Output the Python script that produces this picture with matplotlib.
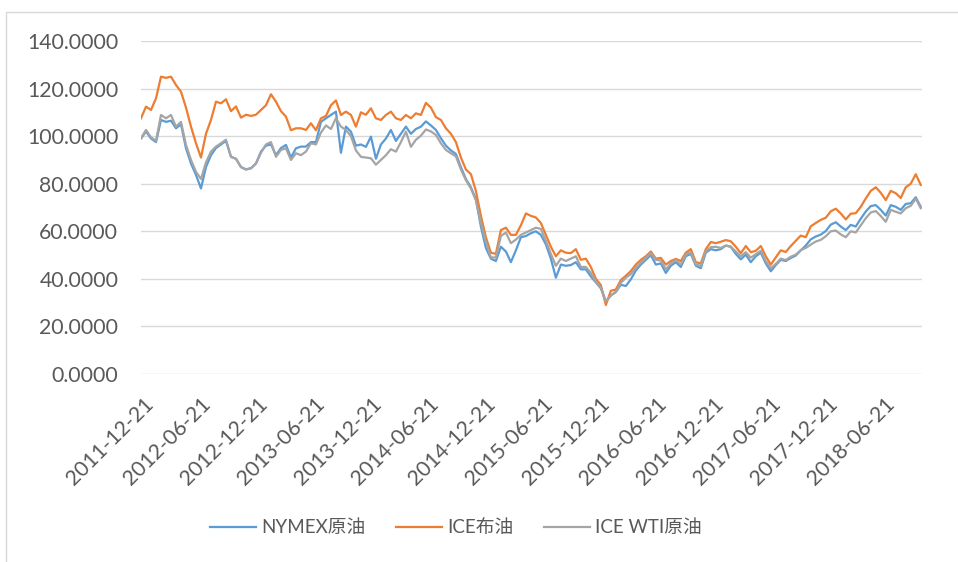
import matplotlib
matplotlib.use("Agg")
import matplotlib.pyplot as plt
import matplotlib.transforms as mtransforms
from matplotlib.patches import Rectangle
import pandas as pd

plt.rcParams['font.family'] = ['Lato', 'Noto Sans CJK SC', 'DejaVu Sans']

# sampling dates: every 16 days starting 2011-12-21
start_date = "2011-12-21"
step_days = 16
end_date = "2018-10-25"

# ICE布油
brent = [
    107.5, 112.4, 111.0, 115.9, 125.0, 124.5, 125.0, 121.5, 118.7, 112.0,
    104.0, 97.0, 91.0, 101.0, 106.8, 114.5, 113.8, 115.5, 110.5, 112.5,
    107.8, 109.0, 108.5, 109.0, 111.0, 113.0, 117.6, 114.5, 110.5, 108.2,
    102.5, 103.3, 103.3, 102.6, 105.4, 102.5, 107.5, 108.5, 113.0, 115.0,
    108.9, 110.3, 108.9, 104.0, 110.0, 109.0, 111.7, 107.5, 106.8, 108.9,
    110.3, 107.5, 106.8, 108.9, 107.5, 109.6, 108.9, 114.0, 112.0, 108.0,
    106.8, 103.3, 101.0, 97.5, 91.0, 86.0, 84.0, 77.0, 66.5, 57.5,
    51.0, 50.5, 60.5, 61.5, 58.5, 58.5, 62.5, 67.5, 66.5, 65.8,
    63.5, 58.5, 53.5, 49.5, 52.0, 51.0, 50.8, 52.5, 48.0, 48.5,
    45.0, 40.0, 37.4, 29.0, 35.0, 35.5, 39.5, 41.3, 43.3, 46.0,
    48.0, 49.5, 51.5, 48.5, 48.8, 46.0, 47.5, 48.4, 47.5, 51.0,
    52.5, 47.0, 46.5, 52.5, 55.5, 55.0, 55.6, 56.3, 55.8, 53.5,
    50.8, 53.8, 51.2, 51.8, 53.8, 49.5, 46.0, 49.0, 52.0, 51.3,
    53.8, 56.0, 58.2, 57.5, 62.1, 63.5, 64.8, 65.7, 68.4, 69.5,
    67.5, 65.0, 67.4, 67.6, 70.3, 73.8, 77.0, 78.5, 76.2, 73.1,
    77.0, 76.0, 74.0, 78.5, 80.0, 84.0, 79.5,
]

# ICE WTI原油
ice_wti = [
    99.1, 102.6, 99.5, 98.0, 108.9, 107.5, 108.9, 104.0, 106.0, 96.3,
    90.0, 85.0, 82.0, 89.0, 93.5, 95.6, 97.0, 98.5, 91.3, 90.5,
    87.0, 86.0, 86.5, 88.5, 93.0, 96.5, 97.5, 91.3, 94.2, 94.9,
    90.0, 92.8, 92.0, 93.5, 97.0, 96.5, 101.5, 104.5, 103.0, 107.5,
    104.0, 102.6, 100.0, 94.0, 91.3, 91.0, 90.7, 88.0, 90.0, 92.0,
    94.5, 93.5, 97.5, 101.9, 95.5, 98.5, 100.2, 102.8, 102.0, 100.5,
    97.0, 94.2, 92.8, 91.5, 86.0, 81.5, 78.0, 73.0, 63.5, 55.5,
    49.0, 49.0, 58.0, 59.5, 55.0, 56.5, 58.5, 59.5, 60.5, 61.5,
    61.0, 56.0, 50.5, 45.5, 48.5, 47.5, 48.5, 49.5, 45.0, 45.0,
    42.5, 38.8, 36.3, 30.5, 33.0, 34.5, 38.3, 40.5, 42.0, 44.7,
    46.8, 48.8, 50.8, 48.0, 47.7, 44.0, 46.5, 47.9, 46.0, 50.2,
    51.2, 46.0, 45.5, 51.5, 53.3, 53.5, 53.0, 54.0, 53.5, 51.5,
    49.5, 51.2, 48.9, 50.4, 51.8, 47.5, 44.5, 46.3, 48.5, 47.9,
    49.3, 50.2, 52.1, 53.0, 54.4, 55.7, 56.4, 57.9, 60.0, 60.3,
    58.7, 57.5, 60.0, 59.5, 62.5, 65.5, 67.9, 68.5, 66.4, 64.0,
    69.0, 68.2, 67.5, 69.7, 70.7, 73.7, 69.7,
]

# NYMEX原油
nymex = [
    99.0, 102.0, 99.0, 97.5, 106.8, 106.0, 106.5, 103.3, 105.0, 94.9,
    88.5, 83.7, 78.0, 87.0, 92.0, 95.0, 96.5, 98.0, 91.3, 90.5,
    87.0, 86.0, 86.5, 88.5, 93.5, 96.0, 96.5, 92.0, 95.0, 96.3,
    91.0, 94.9, 95.6, 95.6, 97.5, 97.5, 106.0, 107.5, 108.9, 110.3,
    93.0, 104.0, 101.9, 96.0, 96.5, 95.5, 99.8, 90.5, 96.5, 99.0,
    102.6, 98.0, 101.0, 104.0, 101.0, 103.0, 104.0, 106.2, 104.5, 102.6,
    99.1, 96.0, 94.0, 92.5, 87.0, 82.0, 78.5, 73.5, 62.0, 53.0,
    48.5, 47.5, 53.5, 51.5, 47.0, 52.0, 57.5, 58.0, 59.2, 60.0,
    58.5, 54.5, 48.5, 40.5, 46.0, 45.5, 45.8, 47.0, 44.0, 44.0,
    41.0, 38.5, 36.0, 30.5, 33.0, 34.5, 37.5, 37.0, 39.8, 43.5,
    46.0, 48.0, 50.0, 46.0, 46.5, 42.5, 45.5, 47.0, 45.0, 49.5,
    50.5, 45.5, 44.5, 51.0, 52.5, 52.0, 52.5, 54.0, 53.5, 50.5,
    48.2, 50.2, 47.0, 49.5, 51.0, 46.5, 43.2, 45.8, 48.0, 47.5,
    48.8, 49.8, 52.0, 54.0, 56.6, 57.8, 58.6, 60.1, 62.8, 63.8,
    62.0, 60.5, 62.7, 62.0, 65.3, 68.3, 70.6, 71.0, 69.0, 66.6,
    71.0, 70.3, 69.0, 71.5, 71.8, 74.3, 70.3,
]

tick_labels = [
    "2011-12-21", "2012-06-21", "2012-12-21", "2013-06-21", "2013-12-21",
    "2014-06-21", "2014-12-21", "2015-06-21", "2015-12-21", "2016-06-21",
    "2016-12-21", "2017-06-21", "2017-12-21", "2018-06-21",
]

dates = pd.date_range(start_date, periods=len(brent), freq=f"{step_days}D")

text_color = "#595959"
grid_color = "#D9D9D9"

fig = plt.figure(figsize=(9.58, 5.62), dpi=100)
ax = fig.add_axes([141 / 958, 1 - 374 / 562, 781 / 958, 333 / 562])

ax.plot(dates, nymex, color="#5B9BD5", lw=1.6, label="NYMEX原油")
ax.plot(dates, brent, color="#ED7D31", lw=1.6, label="ICE布油")
ax.plot(dates, ice_wti, color="#A5A5A5", lw=1.6, label="ICE WTI原油")

ax.set_ylim(0, 140)
ax.set_yticks(range(0, 141, 20))
ax.set_yticklabels([f"{v:.4f}" for v in range(0, 141, 20)])
ax.set_xlim(pd.Timestamp(start_date), pd.Timestamp(end_date))

ax.set_xticks(pd.to_datetime(tick_labels))
ax.set_xticklabels(tick_labels, rotation=45, ha="right", va="top",
                   rotation_mode="anchor")

ax.grid(axis="y", color=grid_color, lw=1.0)
ax.set_axisbelow(True)
for s in ax.spines.values():
    s.set_visible(False)
ax.tick_params(axis="both", length=0, labelsize=15.3, colors=text_color)
ax.tick_params(axis="y", pad=16.3)
ax.tick_params(axis="x", pad=14.5)

shift = mtransforms.ScaledTranslation(2 / 100, 0, fig.dpi_scale_trans)
for lbl in ax.get_xticklabels():
    lbl.set_transform(lbl.get_transform() + shift)

leg = fig.legend(loc="center", bbox_to_anchor=(456 / 958, 1 - 528 / 562),
                 ncol=3, frameon=False, fontsize=13.5, handlelength=2.45,
                 handletextpad=0.3, columnspacing=1.6)
for t in leg.get_texts():
    t.set_color(text_color)

# chart-area border
fig.add_artist(Rectangle((5.5 / 958, -0.1), 2, 1 - 11.5 / 562 + 0.1,
                         transform=fig.transFigure, fill=False,
                         edgecolor=grid_color, lw=1.0, clip_on=False))

fig.savefig("out.png", dpi=100)
